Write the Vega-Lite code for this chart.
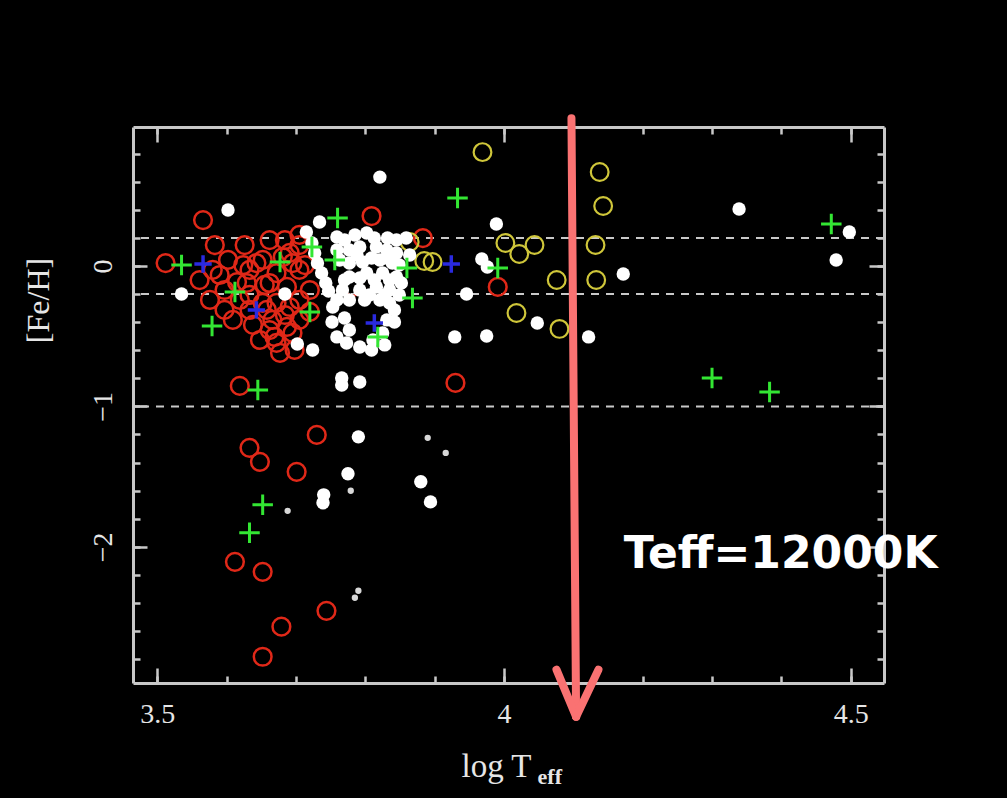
{
 "$schema": "https://vega.github.io/schema/vega-lite/v6.json",
 "width": 751, "height": 556,
 "autosize": {"type": "none"},
 "padding": {"left": 133, "top": 127, "right": 123, "bottom": 115},
 "background": "#000000",
 "config": {"view": {"stroke": null}, "axis": {"grid": false}},
 "datasets": {
  "pts": [
   {"k":"red","x":3.512,"y":0.021},{"k":"red","x":3.566,"y":0.327},{"k":"red","x":3.561,"y":-0.100},{"k":"red","x":3.602,"y":0.043},{"k":"red","x":3.590,"y":-0.064},{"k":"red","x":3.615,"y":-0.114},{"k":"red","x":3.643,"y":0.021},{"k":"red","x":3.652,"y":0.043},{"k":"red","x":3.672,"y":-0.050},{"k":"red","x":3.691,"y":0.093},{"k":"red","x":3.695,"y":0.021},{"k":"red","x":3.629,"y":-0.121},{"k":"red","x":3.662,"y":-0.121},{"k":"red","x":3.687,"y":-0.149},{"k":"red","x":3.619,"y":-0.242},{"k":"red","x":3.652,"y":-0.263},{"k":"red","x":3.672,"y":-0.263},{"k":"red","x":3.691,"y":-0.292},{"k":"red","x":3.666,"y":-0.384},{"k":"red","x":3.687,"y":-0.434},{"k":"red","x":3.672,"y":-0.548},{"k":"red","x":3.695,"y":-0.477},{"k":"red","x":3.677,"y":-0.619},{"k":"red","x":3.609,"y":-0.384},{"k":"red","x":3.638,"y":-0.420},{"k":"red","x":3.669,"y":-0.505},{"k":"red","x":3.658,"y":-0.313},{"k":"red","x":3.720,"y":-0.327},{"k":"red","x":3.681,"y":0.064},{"k":"red","x":3.705,"y":0.149},{"k":"red","x":3.705,"y":-0.028},{"k":"red","x":3.633,"y":-0.028},{"k":"red","x":3.580,"y":-0.028},{"k":"red","x":3.624,"y":0.007},{"k":"red","x":3.655,"y":-0.135},{"k":"red","x":3.705,"y":-0.384},
   {"k":"red","x":3.583,"y":0.149},{"k":"red","x":3.626,"y":0.149},{"k":"red","x":3.662,"y":0.185},{"k":"red","x":3.684,"y":0.185},{"k":"red","x":3.705,"y":0.221},{"k":"red","x":3.576,"y":-0.242},{"k":"red","x":3.597,"y":-0.313},{"k":"red","x":3.633,"y":-0.206},{"k":"red","x":3.648,"y":-0.527},{"k":"red","x":3.698,"y":-0.598},{"k":"red","x":3.705,"y":-0.242},{"k":"red","x":3.720,"y":-0.171},{"k":"red","x":3.713,"y":0.007},{"k":"red","x":3.633,"y":-0.313},{"k":"red","x":3.597,"y":-0.171},{"k":"red","x":3.684,"y":-0.349},{"k":"red","x":3.662,"y":-0.456},
   {"k":"red","x":3.619,"y":-0.854},{"k":"red","x":3.633,"y":-1.295},{"k":"red","x":3.648,"y":-1.395},{"k":"red","x":3.730,"y":-1.203},{"k":"red","x":3.701,"y":-1.466},{"k":"red","x":3.930,"y":-0.833},{"k":"red","x":3.991,"y":-0.149},{"k":"red","x":3.883,"y":0.199},{"k":"red","x":3.809,"y":0.356},{"k":"red","x":3.782,"y":-0.149},{"k":"red","x":3.612,"y":-2.107},{"k":"red","x":3.652,"y":-2.178},{"k":"red","x":3.744,"y":-2.456},{"k":"red","x":3.679,"y":-2.569},{"k":"red","x":3.652,"y":-2.783},
   {"k":"yel","x":3.969,"y":0.811},{"k":"yel","x":4.138,"y":0.669},{"k":"yel","x":4.143,"y":0.427},{"k":"yel","x":4.002,"y":0.164},{"k":"yel","x":4.022,"y":0.085},{"k":"yel","x":4.044,"y":0.149},{"k":"yel","x":4.132,"y":0.149},{"k":"yel","x":4.076,"y":-0.100},{"k":"yel","x":4.133,"y":-0.100},{"k":"yel","x":4.018,"y":-0.335},{"k":"yel","x":4.080,"y":-0.448},{"k":"yel","x":3.864,"y":0.171},{"k":"yel","x":3.885,"y":0.036},{"k":"yel","x":3.897,"y":0.028},
   {"k":"wht","x":3.821,"y":0.633},{"k":"wht","x":3.602,"y":0.399},{"k":"wht","x":3.734,"y":0.313},{"k":"wht","x":3.715,"y":0.242},{"k":"wht","x":3.535,"y":-0.199},{"k":"wht","x":3.684,"y":-0.199},{"k":"wht","x":3.702,"y":-0.555},{"k":"wht","x":3.724,"y":-0.598},{"k":"wht","x":3.989,"y":0.299},{"k":"wht","x":3.968,"y":0.050},{"k":"wht","x":3.976,"y":-0.007},{"k":"wht","x":3.946,"y":-0.199},{"k":"wht","x":3.929,"y":-0.505},{"k":"wht","x":3.975,"y":-0.498},{"k":"wht","x":4.048,"y":-0.406},{"k":"wht","x":4.122,"y":-0.505},{"k":"wht","x":4.172,"y":-0.057},{"k":"wht","x":4.339,"y":0.406},{"k":"wht","x":4.498,"y":0.242},{"k":"wht","x":4.479,"y":0.043},{"k":"wht","x":3.766,"y":-0.797},{"k":"wht","x":3.766,"y":-0.847},{"k":"wht","x":3.792,"y":-0.826},{"k":"wht","x":3.790,"y":-1.217},{"k":"wht","x":3.775,"y":-1.480},{"k":"wht","x":3.740,"y":-1.630},{"k":"wht","x":3.739,"y":-1.687},{"k":"wht","x":3.880,"y":-1.537},{"k":"wht","x":3.894,"y":-1.680},
   {"k":"wht","x":3.723,"y":0.164},{"k":"wht","x":3.727,"y":0.093},{"k":"wht","x":3.731,"y":0.021},{"k":"wht","x":3.737,"y":-0.050},{"k":"wht","x":3.743,"y":-0.121},{"k":"wht","x":3.747,"y":-0.178},{"k":"wht","x":3.759,"y":0.206},{"k":"wht","x":3.759,"y":0.114},{"k":"wht","x":3.802,"y":0.235},{"k":"wht","x":3.777,"y":0.114},{"k":"wht","x":3.792,"y":0.135},{"k":"wht","x":3.816,"y":0.135},{"k":"wht","x":3.831,"y":0.114},{"k":"wht","x":3.845,"y":0.093},{"k":"wht","x":3.777,"y":0.021},{"k":"wht","x":3.796,"y":0.028},{"k":"wht","x":3.821,"y":0.043},{"k":"wht","x":3.839,"y":0.021},{"k":"wht","x":3.777,"y":-0.078},{"k":"wht","x":3.802,"y":-0.050},{"k":"wht","x":3.825,"y":-0.050},{"k":"wht","x":3.845,"y":-0.078},{"k":"wht","x":3.767,"y":-0.171},{"k":"wht","x":3.792,"y":-0.171},{"k":"wht","x":3.816,"y":-0.149},{"k":"wht","x":3.835,"y":-0.171},{"k":"wht","x":3.852,"y":-0.121},{"k":"wht","x":3.759,"y":-0.242},{"k":"wht","x":3.777,"y":-0.242},{"k":"wht","x":3.821,"y":-0.242},{"k":"wht","x":3.835,"y":-0.263},{"k":"wht","x":3.845,"y":0.185},{"k":"wht","x":3.859,"y":0.199},{"k":"wht","x":3.753,"y":-0.292},{"k":"wht","x":3.752,"y":-0.399},{"k":"wht","x":3.759,"y":-0.505},{"k":"wht","x":3.773,"y":-0.548},{"k":"wht","x":3.792,"y":-0.577},{"k":"wht","x":3.811,"y":-0.527},{"k":"wht","x":3.825,"y":-0.477},{"k":"wht","x":3.831,"y":-0.384},{"k":"wht","x":3.799,"y":-0.242},{"k":"wht","x":3.842,"y":-0.313},
   {"k":"wht","x":3.770,"y":0.185},{"k":"wht","x":3.785,"y":0.221},{"k":"wht","x":3.813,"y":0.199},{"k":"wht","x":3.832,"y":0.199},{"k":"wht","x":3.763,"y":0.043},{"k":"wht","x":3.788,"y":0.078},{"k":"wht","x":3.809,"y":0.057},{"k":"wht","x":3.831,"y":0.057},{"k":"wht","x":3.849,"y":0.007},{"k":"wht","x":3.770,"y":-0.100},{"k":"wht","x":3.792,"y":-0.085},{"k":"wht","x":3.813,"y":-0.100},{"k":"wht","x":3.835,"y":-0.100},{"k":"wht","x":3.806,"y":-0.206},{"k":"wht","x":3.828,"y":-0.206},{"k":"wht","x":3.849,"y":-0.206},{"k":"wht","x":3.770,"y":-0.370},{"k":"wht","x":3.842,"y":-0.399},{"k":"wht","x":3.777,"y":-0.456},{"k":"wht","x":3.828,"y":-0.562},{"k":"wht","x":3.809,"y":-0.598},{"k":"wht","x":3.864,"y":0.078},
   {"k":"sml","x":3.890,"y":-1.224},{"k":"sml","x":3.916,"y":-1.331},{"k":"sml","x":3.779,"y":-1.601},{"k":"sml","x":3.688,"y":-1.744},{"k":"sml","x":3.790,"y":-2.313},{"k":"sml","x":3.785,"y":-2.363},
   {"k":"grn","x":3.535,"y":0.007},{"k":"grn","x":3.579,"y":-0.427},{"k":"grn","x":3.612,"y":-0.185},{"k":"grn","x":3.677,"y":0.028},{"k":"grn","x":3.760,"y":0.342},{"k":"grn","x":3.723,"y":0.135},{"k":"grn","x":3.756,"y":0.043},{"k":"grn","x":3.860,"y":-0.014},{"k":"grn","x":3.868,"y":-0.228},{"k":"grn","x":3.818,"y":-0.505},{"k":"grn","x":3.720,"y":-0.327},{"k":"grn","x":3.645,"y":-0.883},{"k":"grn","x":3.652,"y":-1.701},{"k":"grn","x":3.633,"y":-1.900},{"k":"grn","x":3.933,"y":0.484},{"k":"grn","x":3.991,"y":-0.014},{"k":"grn","x":4.472,"y":0.299},{"k":"grn","x":4.300,"y":-0.797},{"k":"grn","x":4.383,"y":-0.897},
   {"k":"blu","x":3.566,"y":0.014},{"k":"blu","x":3.643,"y":-0.313},{"k":"blu","x":3.924,"y":0.014},{"k":"blu","x":3.813,"y":-0.406}
  ],
  "hlines": [{"feh": 0.2}, {"feh": -0.2}, {"feh": -1.0}],
  "arrow": [
   {"x": 4.0973, "y": 1.053, "x2": 4.104, "y2": -3.21},
   {"x": 4.0757, "y": -2.875, "x2": 4.104, "y2": -3.21},
   {"x": 4.1362, "y": -2.875, "x2": 4.104, "y2": -3.21}
  ],
  "labels": [
   {"t": "Teff=12000K", "x": 4.399, "y": -2.149, "kind": "big"},
   {"t": "eff", "x": 4.066, "y": -3.69, "kind": "sub"}
  ]
 },
 "layer": [
  {
   "data": {"name": "hlines"},
   "mark": {"type": "rule", "color": "#c8c8c8", "strokeWidth": 2, "strokeDash": [8, 7]},
   "encoding": {
    "y": {"field": "feh", "type": "quantitative",
     "scale": {"domain": [-2.97, 0.99], "nice": false, "zero": false},
     "axis": {"orient": "left", "values": [0, -1, -2], "ticks": false, "domain": true, "domainColor": "#c8c8c8", "domainWidth": 3,
      "labelFont": "Liberation Serif", "labelFontSize": 28, "labelColor": "#e6e6e6", "labelAngle": 270, "labelAlign": "center", "labelBaseline": "bottom", "labelPadding": 16,
      "format": "d", "title": "[Fe/H]", "titleFont": "Liberation Serif", "titleFontSize": 32, "titleFontWeight": "normal", "titleColor": "#e6e6e6", "titlePadding": 34, "titleY": 173}}
   }
  },
  {
   "data": {"name": "pts"},
   "transform": [{"filter": "datum.k === 'red'"}],
   "mark": {"type": "point", "shape": "circle", "filled": false, "color": "#e02818", "strokeWidth": 2.5, "size": 314, "opacity": 1},
   "encoding": {
    "x": {"field": "x", "type": "quantitative",
     "scale": {"domain": [3.465, 4.548], "nice": false, "zero": false},
     "axis": {"orient": "bottom", "values": [3.5, 4, 4.5], "format": "~g", "ticks": false, "domain": true, "domainColor": "#c8c8c8", "domainWidth": 3,
      "labelFont": "Liberation Serif", "labelFontSize": 28, "labelColor": "#e6e6e6", "labelPadding": 17, "labelFlush": false,
      "title": "log T", "titleFont": "Liberation Serif", "titleFontSize": 33, "titleFontWeight": "normal", "titleColor": "#e6e6e6", "titlePadding": 22, "titleX": 363}},
    "y": {"field": "y", "type": "quantitative",
     "scale": {"domain": [-2.97, 0.99], "nice": false, "zero": false},
     "axis": {"orient": "left", "values": [-2.8,-2.6,-2.4,-2.2,-2,-1.8,-1.6,-1.4,-1.2,-1,-0.8,-0.6,-0.4,-0.2,0,0.2,0.4,0.6,0.8], "labels": false, "domain": false, "tickSize": -7, "tickWidth": 2.5, "tickColor": "#c8c8c8", "title": null}}
   }
  },
  {
   "data": {"name": "pts"},
   "transform": [{"filter": "datum.k === 'yel'"}],
   "mark": {"type": "point", "shape": "circle", "filled": false, "color": "#cfc63a", "strokeWidth": 2.2, "size": 314, "opacity": 1},
   "encoding": {
    "x": {"field": "x", "type": "quantitative",
     "scale": {"domain": [3.465, 4.548], "nice": false, "zero": false},
     "axis": {"orient": "bottom", "values": [3.5,3.6,3.7,3.8,3.9,4,4.1,4.2,4.3,4.4,4.5], "labels": false, "domain": false, "tickSize": -7, "tickWidth": 2.5, "tickColor": "#c8c8c8", "title": null}},
    "y": {"field": "y", "type": "quantitative",
     "scale": {"domain": [-2.97, 0.99], "nice": false, "zero": false},
     "axis": {"orient": "left", "values": [-2, -1, 0], "labels": false, "domain": false, "tickSize": -14, "tickWidth": 2.5, "tickColor": "#c8c8c8", "title": null}}
   }
  },
  {
   "data": {"name": "pts"},
   "transform": [{"filter": "datum.k === 'wht'"}],
   "mark": {"type": "point", "shape": "circle", "filled": true, "color": "#ffffff", "size": 180, "opacity": 1},
   "encoding": {
    "x": {"field": "x", "type": "quantitative",
     "scale": {"domain": [3.465, 4.548], "nice": false, "zero": false},
     "axis": {"orient": "bottom", "values": [3.5, 4, 4.5], "labels": false, "domain": false, "tickSize": -15, "tickWidth": 2.5, "tickColor": "#c8c8c8", "title": null}},
    "y": {"field": "y", "type": "quantitative",
     "scale": {"domain": [-2.97, 0.99], "nice": false, "zero": false},
     "axis": {"orient": "right", "values": [-2.8,-2.6,-2.4,-2.2,-2,-1.8,-1.6,-1.4,-1.2,-1,-0.8,-0.6,-0.4,-0.2,0,0.2,0.4,0.6,0.8], "labels": false, "domain": true, "domainColor": "#c8c8c8", "domainWidth": 3, "tickSize": -7, "tickWidth": 2.5, "tickColor": "#c8c8c8", "title": null}}
   }
  },
  {
   "data": {"name": "pts"},
   "transform": [{"filter": "datum.k === 'sml'"}],
   "mark": {"type": "point", "shape": "circle", "filled": true, "color": "#d8d8d8", "size": 40, "opacity": 1},
   "encoding": {
    "x": {"field": "x", "type": "quantitative",
     "scale": {"domain": [3.465, 4.548], "nice": false, "zero": false},
     "axis": {"orient": "top", "values": [3.5,3.6,3.7,3.8,3.9,4,4.1,4.2,4.3,4.4,4.5], "labels": false, "domain": true, "domainColor": "#c8c8c8", "domainWidth": 3, "tickSize": -7, "tickWidth": 2.5, "tickColor": "#c8c8c8", "title": null}},
    "y": {"field": "y", "type": "quantitative",
     "scale": {"domain": [-2.97, 0.99], "nice": false, "zero": false},
     "axis": {"orient": "right", "values": [-2, -1, 0], "labels": false, "domain": false, "tickSize": -15, "tickWidth": 2.5, "tickColor": "#c8c8c8", "title": null}}
   }
  },
  {
   "data": {"name": "pts"},
   "transform": [{"filter": "datum.k === 'grn'"}],
   "mark": {"type": "point", "shape": "M-1,0H1M0,-1V1", "filled": false, "color": "#33e633", "strokeWidth": 3, "size": 420, "opacity": 1},
   "encoding": {
    "x": {"field": "x", "type": "quantitative",
     "scale": {"domain": [3.465, 4.548], "nice": false, "zero": false},
     "axis": {"orient": "top", "values": [3.5, 4, 4.5], "labels": false, "domain": false, "tickSize": -15, "tickWidth": 2.5, "tickColor": "#c8c8c8", "title": null}},
    "y": {"field": "y", "type": "quantitative",
     "scale": {"domain": [-2.97, 0.99], "nice": false, "zero": false}, "axis": null}
   }
  },
  {
   "data": {"name": "pts"},
   "transform": [{"filter": "datum.k === 'blu'"}],
   "mark": {"type": "point", "shape": "M-1,-0.2H-0.2V-1H0.2V-0.2H1V0.2H0.2V1H-0.2V0.2H-1Z", "filled": true, "color": "#2a2ae0", "size": 300, "opacity": 1},
   "encoding": {
    "x": {"field": "x", "type": "quantitative", "scale": {"domain": [3.465, 4.548], "nice": false, "zero": false}, "axis": null},
    "y": {"field": "y", "type": "quantitative", "scale": {"domain": [-2.97, 0.99], "nice": false, "zero": false}, "axis": null}
   }
  },
  {
   "data": {"name": "arrow"},
   "mark": {"type": "rule", "color": "#fa7272", "strokeWidth": 8, "strokeCap": "round", "clip": false},
   "encoding": {
    "x": {"field": "x", "type": "quantitative", "scale": {"domain": [3.465, 4.548], "nice": false, "zero": false}, "axis": null},
    "y": {"field": "y", "type": "quantitative", "scale": {"domain": [-2.97, 0.99], "nice": false, "zero": false}, "axis": null},
    "x2": {"field": "x2"},
    "y2": {"field": "y2"}
   }
  },
  {
   "data": {"name": "labels"},
   "transform": [{"filter": "datum.kind === 'big'"}],
   "mark": {"type": "text", "font": "DejaVu Sans", "fontWeight": "bold", "fontSize": 44, "color": "#ffffff", "align": "center", "baseline": "alphabetic", "clip": false},
   "encoding": {
    "x": {"field": "x", "type": "quantitative", "scale": {"domain": [3.465, 4.548], "nice": false, "zero": false}, "axis": null},
    "y": {"field": "y", "type": "quantitative", "scale": {"domain": [-2.97, 0.99], "nice": false, "zero": false}, "axis": null},
    "text": {"field": "t"}
   }
  },
  {
   "data": {"name": "labels"},
   "transform": [{"filter": "datum.kind === 'sub'"}],
   "mark": {"type": "text", "font": "Liberation Serif", "fontWeight": "bold", "fontSize": 22, "color": "#e6e6e6", "align": "center", "baseline": "alphabetic", "clip": false},
   "encoding": {
    "x": {"field": "x", "type": "quantitative", "scale": {"domain": [3.465, 4.548], "nice": false, "zero": false}, "axis": null},
    "y": {"field": "y", "type": "quantitative", "scale": {"domain": [-2.97, 0.99], "nice": false, "zero": false}, "axis": null},
    "text": {"field": "t"}
   }
  }
 ],
 "resolve": {"axis": {"x": "independent", "y": "independent"}}
}
